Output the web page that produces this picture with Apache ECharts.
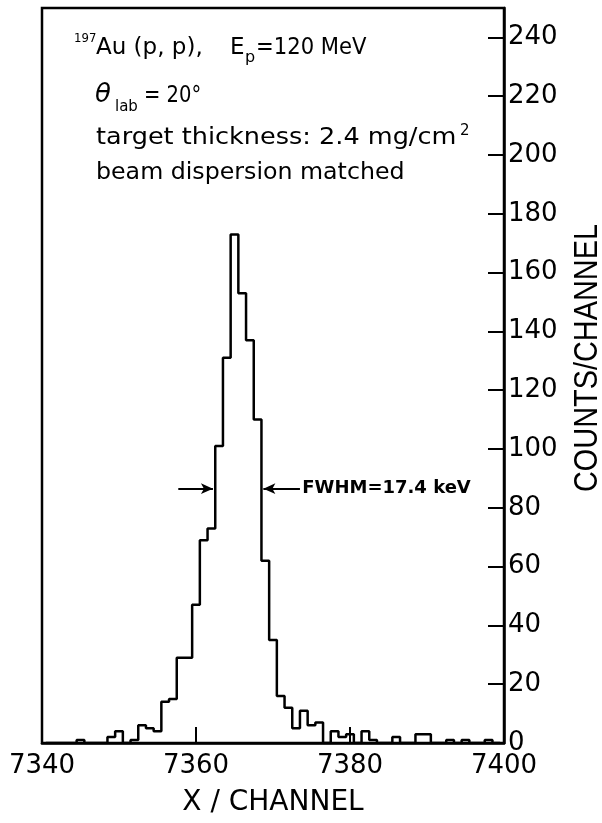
<!DOCTYPE html>
<html>
<head>
<meta charset="utf-8">
<script src="https://cdn.jsdelivr.net/npm/echarts@6/dist/echarts.min.js"></script>
<style>
html,body{margin:0;padding:0;background:#fff;}
#chart{width:602px;height:823px;}
</style>
</head>
<body>
<div id="chart"></div>
<script>
// ---- data ----
const channels = [7341,7342,7343,7344,7345,7346,7347,7348,7349,7350,
  7351,7352,7353,7354,7355,7356,7357,7358,7359,7360,
  7361,7362,7363,7364,7365,7366,7367,7368,7369,7370,
  7371,7372,7373,7374,7375,7376,7377,7378,7379,7380,
  7381,7382,7383,7384,7385,7386,7387,7388,7389,7390,
  7391,7392,7393,7394,7395,7396,7397,7398,7399];
const counts = [0,0,0,0,1,0,0,0,2,4,
  0,1,6,5,4,14,15,29,29,47,
  69,73,101,131,173,153,137,110,62,35,
  16,12,5,11,6,7,0,4,2,3,
  0,4,1,0,0,2,0,0,3,3,
  0,0,1,0,1,0,0,1,0];
const xTicks = [7340,7360,7380,7400];
const yTicks = [0,20,40,60,80,100,120,140,160,180,200,220,240];
const fwhmLevel = 86.5;
const fwhmLeft = 7362.5, fwhmRight = 7368.5;

// histogram outline points at bin edges
const pts = channels.map((c,i)=>[c-0.5, counts[i]]);
pts.push([channels[channels.length-1]+0.5, counts[counts.length-1]]);

const chart = echarts.init(document.getElementById('chart'), null, {renderer:'canvas'});
const FF = 'DejaVu Sans';

function T(text, x, base, size, sx, weight, fam){
  return {
    type:'text', x:x, y: base - 0.346*size, scaleX: sx||1,
    style:{text:text, x:0, y:0, font:(weight||'normal')+' '+size+'px "'+(fam||FF)+'"',
      fill:'#000', textAlign:'left', textVerticalAlign:'middle', align:'left', verticalAlign:'middle'}
  };
}

const option = {
  backgroundColor:'#fff',
  animation:false,
  grid:{left:42, right:98, top:8, bottom:80, show:true, borderColor:'#000', borderWidth:2.5,
    backgroundColor:'transparent', outerBoundsMode:'none', containLabel:false},
  xAxis:{
    type:'value', min:7340, max:7400, interval:20,
    axisLine:{show:true, lineStyle:{color:'#000', width:2.5}},
    axisTick:{show:true, inside:true, length:16, lineStyle:{color:'#000', width:2}, customValues:xTicks},
    axisLabel:{color:'#000', fontFamily:FF, fontSize:26, margin:10, customValues:xTicks,
      formatter:(v)=>String(v)},
    splitLine:{show:false}
  },
  yAxis:{
    type:'value', position:'right', min:0, max:250, interval:20,
    axisLine:{show:true, lineStyle:{color:'#000', width:2.5}},
    axisTick:{show:true, inside:true, length:16, lineStyle:{color:'#000', width:2}, customValues:yTicks},
    axisLabel:{color:'#000', fontFamily:FF, fontSize:26, margin:4, customValues:yTicks,
      formatter:(v)=>String(v)},
    splitLine:{show:false}
  },
  series:[{
    type:'line', data:pts, step:'end', showSymbol:false, symbol:'none',
    lineStyle:{color:'#000', width:2.5}, clip:true,
    markLine:{
      silent:true, symbol:['none','arrow'], symbolSize:[8,12],
      lineStyle:{color:'#000', width:2, type:'solid'},
      label:{show:false},
      data:[
        [{coord:[fwhmLeft-4.8, fwhmLevel]},{coord:[fwhmLeft-0.3, fwhmLevel]}],
        [{coord:[fwhmRight+5, fwhmLevel]},{coord:[fwhmRight+0.25, fwhmLevel]}]
      ]
    }
  }]
};
chart.setOption(option);

const p = chart.convertToPixel({gridIndex:0}, [fwhmRight+5.3, fwhmLevel]);
chart.setOption({graphic:[
  T('197', 74, 43, 13, 0.9),
  T('Au (p, p),', 96, 56, 23, 1.0),
  T('E', 230, 56, 23, 1.0),
  T('p', 245, 63, 16),
  T('=120 MeV', 256, 56, 23, 0.92),
  T('\u03B8', 95, 104, 26, 1.0, 'italic'),
  T('lab', 115, 112, 15),
  T('= 20\u00B0', 144, 104, 23, 0.85),
  T('target thickness: 2.4 mg/cm', 96, 146, 23, 1.11),
  T('2', 460, 136, 15),
  T('beam dispersion matched', 96, 181, 23, 1.03),
  {type:'text', x:p[0], y:p[1], style:{text:'FWHM=17.4 keV', x:0, y:0,
    font:'bold 18px "'+FF+'"', fill:'#000', textAlign:'left', textVerticalAlign:'middle', align:'left', verticalAlign:'middle'}},
  {type:'text', x:273, y:803, style:{text:'X / CHANNEL', x:0, y:0,
    font:'normal 28px "'+FF+'"', fill:'#000', textAlign:'center', textVerticalAlign:'middle', align:'center', verticalAlign:'middle'}},
  {type:'text', x:588, y:358, rotation:Math.PI/2, scaleX:0.85, style:{text:'COUNTS/CHANNEL', x:0, y:0,
    font:'normal 34px "Liberation Sans"', fill:'#000', textAlign:'center', textVerticalAlign:'middle', align:'center', verticalAlign:'middle'}}
]});
</script>
</body>
</html>
